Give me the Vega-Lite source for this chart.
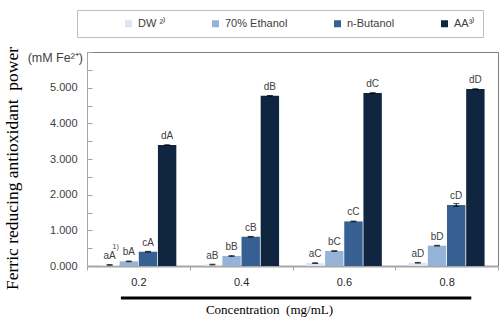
{
  "$schema": "https://vega.github.io/schema/vega-lite/v6.json",
  "width": 411,
  "height": 214,
  "autosize": {"type": "none"},
  "padding": {"left": 87, "top": 52, "right": 1, "bottom": 55},
  "background": "white",
  "config": {
    "view": {"stroke": "#7f7f7f", "strokeWidth": 1},
    "font": "Liberation Sans",
    "axisY": {
      "tickCount": 12,
      "labelExpr": "abs(datum.value - round(datum.value)) < 0.001 && datum.value < 5.5 ? format(datum.value, '.3f') : ''",
      "labelOverlap": false,
      "tickSize": -5,
      "tickColor": "#a6a6a6",
      "domainColor": "#a6a6a6",
      "labelPadding": 15,
      "labelFontSize": 11,
      "labelColor": "#404040",
      "grid": false,
      "titleFont": "Liberation Serif",
      "titleFontSize": 17.5,
      "titleFontWeight": "normal",
      "titleColor": "black",
      "titleX": -66,
      "titleY": 116
    }
  },
  "data": {
    "values": [
      {"conc": "0.2", "solvent": "DW", "value": 0.03, "err": 0.01, "label": "aA", "sup": "1)"},
      {"conc": "0.2", "solvent": "70% Ethanol", "value": 0.13, "err": 0.01, "label": "bA", "sup": ""},
      {"conc": "0.2", "solvent": "n-Butanol", "value": 0.40, "err": 0.01, "label": "cA", "sup": ""},
      {"conc": "0.2", "solvent": "AA", "value": 3.39, "err": 0.01, "label": "dA", "sup": ""},
      {"conc": "0.4", "solvent": "DW", "value": 0.04, "err": 0.01, "label": "aB", "sup": ""},
      {"conc": "0.4", "solvent": "70% Ethanol", "value": 0.28, "err": 0.01, "label": "bB", "sup": ""},
      {"conc": "0.4", "solvent": "n-Butanol", "value": 0.82, "err": 0.01, "label": "cB", "sup": ""},
      {"conc": "0.4", "solvent": "AA", "value": 4.77, "err": 0.01, "label": "dB", "sup": ""},
      {"conc": "0.6", "solvent": "DW", "value": 0.08, "err": 0.01, "label": "aC", "sup": ""},
      {"conc": "0.6", "solvent": "70% Ethanol", "value": 0.42, "err": 0.01, "label": "bC", "sup": ""},
      {"conc": "0.6", "solvent": "n-Butanol", "value": 1.25, "err": 0.01, "label": "cC", "sup": ""},
      {"conc": "0.6", "solvent": "AA", "value": 4.85, "err": 0.01, "label": "dC", "sup": ""},
      {"conc": "0.8", "solvent": "DW", "value": 0.09, "err": 0.01, "label": "aD", "sup": ""},
      {"conc": "0.8", "solvent": "70% Ethanol", "value": 0.57, "err": 0.01, "label": "bD", "sup": ""},
      {"conc": "0.8", "solvent": "n-Butanol", "value": 1.71, "err": 0.04, "label": "cD", "sup": ""},
      {"conc": "0.8", "solvent": "AA", "value": 4.96, "err": 0.01, "label": "dD", "sup": ""}
    ]
  },
  "layer": [
    {
      "encoding": {
        "x": {
          "field": "conc",
          "type": "nominal",
          "scale": {"paddingInner": 0, "paddingOuter": 0},
          "axis": {
            "labelAngle": 0,
            "tickBand": "extent",
            "tickSize": 4,
            "tickColor": "#a6a6a6",
            "domainColor": "#a6a6a6",
            "domainWidth": 2,
            "labelPadding": 6,
            "labelFontSize": 11,
            "labelColor": "#262626",
            "title": "Concentration\u00a0 (mg/mL)",
            "titleFont": "Liberation Serif",
            "titleFontSize": 13,
            "titleFontWeight": "normal",
            "titleColor": "black",
            "titlePadding": 16,
            "titleX": 182
          }
        },
        "xOffset": {"field": "solvent", "type": "nominal", "scale": {"domain": ["DW", "70% Ethanol", "n-Butanol", "AA"], "paddingInner": 0.04, "paddingOuter": 0.7}}
      },
      "layer": [
        {
          "mark": {"type": "bar"},
          "encoding": {
            "y": {
              "field": "value",
              "type": "quantitative",
              "title": "Ferric reducing antioxidant\u00a0 power",
              "scale": {"domain": [0, 6], "nice": false}
            },
            "color": {
              "field": "solvent",
              "type": "nominal",
              "scale": {"domain": ["DW", "70% Ethanol", "n-Butanol", "AA"], "range": ["#dce6f2", "#95b3d7", "#376092", "#10253f"]},
              "legend": {
                "orient": "none",
                "legendX": -10,
                "legendY": -42,
                "direction": "horizontal",
                "columns": 4,
                "title": " ",
                "titleOrient": "left",
                "titlePadding": 38,
                "titleFontSize": 11,
                "padding": 8,
                "strokeColor": "#bfbfbf",
                "fillColor": "white",
                "symbolType": "square",
                "symbolSize": 49,
                "symbolStrokeWidth": 0,
                "labelFontSize": 11,
                "labelColor": "#404040",
                "labelOffset": 4,
                "columnPadding": 44,
                "labelExpr": "datum.label === 'DW' ? 'DW ²⁾' : datum.label === 'AA' ? 'AA³⁾                  ' : datum.label"
              }
            }
          }
        },
        {
          "mark": {"type": "errorbar", "ticks": {"size": 6, "color": "black"}, "color": "black"},
          "encoding": {
            "y": {"field": "value", "type": "quantitative", "title": "Ferric reducing antioxidant\u00a0 power"},
            "yError": {"field": "err"}
          }
        },
        {
          "mark": {"type": "text", "baseline": "bottom", "dy": -4, "fontSize": 10, "color": "#404040"},
          "encoding": {
            "y": {"field": "value", "type": "quantitative", "title": "Ferric reducing antioxidant\u00a0 power"},
            "text": {"field": "label"}
          }
        },
        {
          "mark": {"type": "text", "baseline": "bottom", "dy": -15, "dx": 6, "fontSize": 7, "color": "#404040"},
          "encoding": {
            "y": {"field": "value", "type": "quantitative", "title": "Ferric reducing antioxidant\u00a0 power"},
            "text": {"field": "sup"}
          }
        }
      ]
    },
    {
      "data": {"values": [{}]},
      "encoding": {
        "x": {"datum": 0, "type": "quantitative", "scale": {"domain": [0, 4]}, "axis": null}
      },
      "layer": [
        {
          "mark": {"type": "rule", "strokeWidth": 3, "color": "black"},
          "encoding": {
            "x": {"datum": 0.33, "type": "quantitative", "scale": {"domain": [0, 4]}, "axis": null},
            "x2": {"datum": 3.74},
            "y": {"datum": -0.9, "type": "quantitative", "title": "Ferric reducing antioxidant\u00a0 power"}
          }
        },
        {
          "mark": {"type": "text", "align": "right", "baseline": "middle", "dx": -4, "dy": 6, "fontSize": 12.5, "color": "#404040"},
          "encoding": {
            "y": {"datum": 6, "type": "quantitative", "title": "Ferric reducing antioxidant\u00a0 power"},
            "text": {"value": "(mM Fe²⁺)"}
          }
        }
      ]
    }
  ],
  "resolve": {"scale": {"x": "independent"}}
}
